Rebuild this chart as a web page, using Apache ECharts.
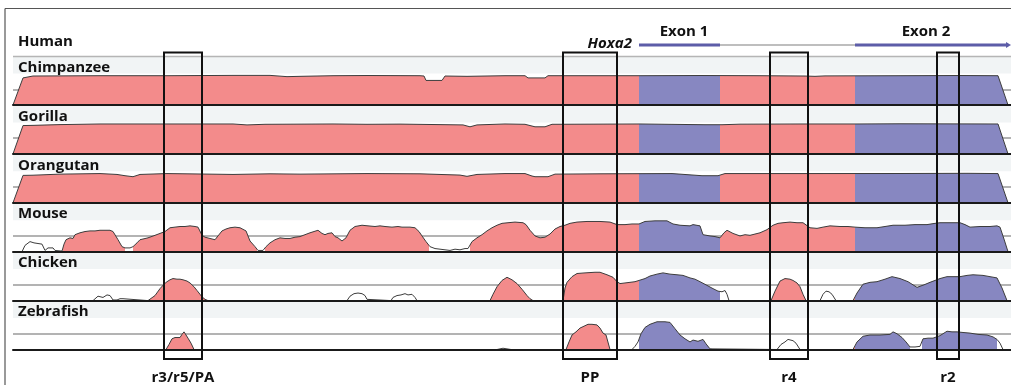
<!DOCTYPE html>
<html><head><meta charset="utf-8">
<script src="https://cdn.jsdelivr.net/npm/echarts@6/dist/echarts.min.js"></script>
<style>html,body{margin:0;padding:0;background:#fff}#c{width:1011px;height:385px}</style>
</head><body><div id="c"></div>
<script>
// ---------------- data ----------------
const species = ['Chimpanzee', 'Gorilla', 'Orangutan', 'Mouse', 'Chicken', 'Zebrafish'];
const reference = 'Human';
const geneName = 'Hoxa2';
const exonNames = ['Exon 1', 'Exon 2'];
const exons = [[639, 720], [855, 1008]];
const exonLabelPos = [684, 926];
const elementNames = ['r3/r5/PA', 'PP', 'r4', 'r2'];
const elementRanges = [[164, 202], [563, 617], [770, 808], [937, 959]];

const chimp = [[13,50],[14,50],[23,93],[33,96],[100,96.5],[167,96.5],[233,97],[270,97],[287,95],[300,95.5],[333,96.5],[367,96.8],[420,96.5],[424,96],[426,89],[442,89],[445,96],[467,95.5],[505,96.5],[525,96.5],[528,93],[545,93],[548,96.5],[615,96.5],[640,96.5],[700,96.8],[760,96.5],[805,96],[815,95.5],[825,96.2],[900,96.5],[960,96.8],[998,96.5],[1008,50],[1011,50]];
const gorilla = [[13,50],[14,50],[23,95],[33,95.3],[60,96.5],[100,97.5],[233,97.5],[247,96],[265,97],[333,97.5],[367,97],[400,97.3],[463,96],[470,93],[477,96],[505,97.5],[525,97],[535,93],[545,93],[552,97],[640,97.5],[705,96.3],[722,96.3],[740,97.2],[800,97.5],[855,97.5],[900,97.8],[998,97.5],[1008,50],[1011,50]];
const orangutan = [[13,50],[14,50],[23,93.5],[33,93.8],[60,95.5],[100,96.4],[117,95],[125,93],[133,91.4],[140,95],[167,96.4],[233,95],[270,96],[300,95.5],[367,96.4],[420,96],[460,94],[467,92],[477,95],[505,96.4],[525,96.4],[532,92.5],[535,91.4],[548,91.4],[555,95.5],[600,96],[672,96.4],[702,93],[718,93],[725,96.4],[805,96.4],[900,96.5],[968,96.8],[998,96.4],[1008,50],[1011,50]];
const mouse = [[13,50],[22,50],[25,60],[30,66],[34,64],[38,63],[42,62],[45,52],[48,56],[50,58],[53,56],[55,52],[62,51],[64,62],[66,69],[70,72],[73,71],[75,77],[80,80],[85,82],[90,83],[95,83],[100,84],[105,84],[110,84],[113,82],[115,80],[118,69],[122,58],[125,56],[130,56],[133,58],[137,64],[140,69],[148,72],[155,76],[160,79],[165,82],[170,88],[175,89],[180,90],[185,90],[190,91],[195,90],[198,89],[202,76],[205,73],[210,71],[215,69],[218,75],[222,83],[226,86],[230,88],[235,89],[240,88],[246,83],[250,67],[255,58],[258,52],[263,52],[266,58],[270,64],[275,69],[280,72],[285,71],[290,71],[295,73],[300,74],[305,77],[310,80],[314,82],[318,84],[322,79],[325,77],[328,79],[332,80],[335,74],[338,72],[342,67],[346,72],[350,84],[355,90],[362,92],[368,91],[375,90],[380,91],[385,90],[392,89],[398,90],[402,89],[410,89],[415,88],[419,82],[422,75],[426,66],[430,58],[435,55],[440,54],[445,53],[450,52],[455,54],[460,53],[465,55],[468,55],[472,66],[477,72],[482,77],[487,83],[492,88],[497,92],[502,95],[508,96],[515,97],[523,96],[526,93],[530,84],[535,75],[540,72],[545,73],[550,78],[555,86],[560,90],[565,92],[570,95],[577,97],[587,98],[600,98],[610,97],[617,93],[625,93],[632,94],[639,94],[645,98],[655,99],[667,99],[673,94],[680,92],[690,91],[693,93],[700,91],[703,77],[710,75],[715,74],[720,72],[724,80],[727,84],[733,79],[740,75],[745,77],[750,76],[755,78],[760,80],[767,85],[773,92],[778,95],[783,96],[790,97],[797,96],[803,96],[810,88],[817,87],[823,89],[830,91],[840,90],[848,90],[855,89],[865,88],[877,88],[885,90],[893,92],[905,92],[915,93],[927,93],[935,95],[940,96],[950,96],[960,96],[965,93],[970,89],[980,90],[990,90],[997,91],[1000,89],[1004,70],[1008,50],[1011,50]];
const chicken = [[13,50],[93,50],[95,53],[98,57],[100,59],[103,55],[105,57],[107,59],[110,58],[113,51],[117,51],[120,53],[123,53],[125,50],[148,50],[150,51],[155,58],[160,69],[164,76],[167,80],[170,83],[173,85],[177,84],[180,84],[183,83],[187,81],[190,78],[194,72],[197,66],[200,60],[202,56],[205,52],[208,50],[347,50],[350,57],[354,61],[358,62],[362,61],[365,58],[367,52],[369,50],[391,50],[393,55],[397,58],[401,59],[405,61],[408,59],[412,60],[415,55],[417,50],[490,50],[493,60],[497,72],[502,82],[507,87],[512,83],[517,77],[522,68],[527,58],[530,53],[533,50],[563,50],[565,70],[567,79],[572,88],[577,93],[585,94],[595,95],[600,95],[607,91],[613,87],[617,80],[620,77],[625,78],[630,79],[635,80],[639,82],[645,85],[650,89],[657,92],[663,94],[670,92],[677,91],[683,90],[690,86],[695,84],[700,80],[706,75],[713,69],[718,65],[720,63],[722,64],[725,66],[727,60],[729,50],[771,50],[775,65],[780,81],[785,85],[790,84],[793,82],[797,78],[800,72],[803,60],[806,50],[820,50],[823,60],[826,65],[829,64],[832,60],[836,50],[853,50],[857,62],[863,76],[870,79],[877,80],[885,84],[892,88],[900,85],[908,80],[917,71],[924,75],[930,79],[940,85],[947,88],[960,88],[967,90],[973,91],[983,90],[990,88],[997,86],[1002,70],[1007,50],[1011,50]];
const zebrafish = [[13,50],[166,50],[169,58],[172,67],[175,69],[177,70],[180,69],[182,74],[184,78],[186,73],[188,68],[191,60],[194,50],[497,50],[500,51],[503,52],[507,51],[511,50],[566,50],[569,62],[572,73],[576,78],[580,84],[584,87],[588,90],[592,90],[597,89],[600,84],[603,76],[606,73],[608,70],[610,50],[632,50],[635,55],[638,62],[641,75],[645,85],[650,90],[657,94],[665,94],[670,93],[675,83],[680,73],[685,67],[690,62],[693,65],[695,67],[698,63],[700,64],[703,66],[706,59],[710,51],[712,50],[777,50],[781,58],[785,62],[788,66],[790,67],[793,64],[796,60],[800,50],[853,50],[857,62],[863,71],[870,73],[880,73],[890,74],[893,78],[897,75],[902,69],[906,62],[910,54],[915,54],[920,55],[923,67],[928,68],[933,68],[940,72],[947,79],[952,78],[957,78],[963,77],[970,76],[978,74],[987,73],[993,70],[997,66],[1000,60],[1003,50],[1011,50]];

// conserved regions (above threshold) per track
const consChimp = [[13, 1011]];
const consGorilla = [[13, 1011]];
const consOrangutan = [[13, 1011]];
const consMouse = [[63, 125], [133, 257], [265, 429], [470, 1008]];
const consChicken = [[148, 209], [490, 534], [563, 720], [771, 806], [853, 1008]];
const consZebrafish = [[166, 194], [566, 610], [639, 712], [853, 910], [922, 997]];

const tracks = [chimp, gorilla, orangutan, mouse, chicken, zebrafish];
const conserved = [consChimp, consGorilla, consOrangutan, consMouse, consChicken, consZebrafish];

// ---------------- style / layout ----------------
const X_MIN = 13, X_MAX = 1011;
const PINK = '#f38b8b', BLUE = '#8787c1';
const BASE0 = 105, STEP = 48.9, PLOT_H = 31.5;
const FONT = '"Open Sans", "DejaVu Sans", sans-serif';

function buildPieces(cons) {
  const set = new Set([X_MIN, X_MAX]);
  cons.forEach(c => { set.add(c[0]); set.add(c[1]); });
  exons.forEach(e => { set.add(e[0]); set.add(e[1]); });
  const b = [...set].sort((a, c) => a - c);
  const pieces = [];
  for (let i = 0; i < b.length - 1; i++) {
    const m = (b[i] + b[i + 1]) / 2;
    const inC = cons.some(c => m > c[0] && m < c[1]);
    const inE = exons.some(e => m > e[0] && m < e[1]);
    const color = !inC ? '#ffffff' : (inE ? BLUE : PINK);
    const p = { gte: b[i], color };
    if (i === b.length - 2) p.lte = b[i + 1]; else p.lt = b[i + 1];
    pieces.push(p);
  }
  return pieces;
}

const grid = [], xAxis = [], yAxis = [], series = [], visualMap = [];
tracks.forEach((d, i) => {
  const base = BASE0 + STEP * i;
  grid.push({ left: X_MIN, width: X_MAX - X_MIN, top: base - PLOT_H, height: PLOT_H, containLabel: false });
  xAxis.push({
    type: 'value', gridIndex: i, min: X_MIN, max: X_MAX, z: 5,
    axisLine: { show: true, onZero: false, lineStyle: { color: '#1a1a1a', width: 2 } },
    axisTick: { show: false }, axisLabel: { show: false }, splitLine: { show: false }
  });
  yAxis.push({
    type: 'value', gridIndex: i, min: 50, max: 100, interval: 25,
    axisLine: { show: false }, axisTick: { show: false }, axisLabel: { show: false },
    splitLine: { show: true, showMinLine: false, showMaxLine: false, lineStyle: { color: '#9a9a9a', width: 1.5 } }
  });
  series.push({
    type: 'line', xAxisIndex: i, yAxisIndex: i, data: d, symbol: 'none', showSymbol: false,
    silent: true, z: 2,
    lineStyle: { color: '#3c3c3c', width: 1 },
    areaStyle: { opacity: 1 }
  });
  visualMap.push({
    type: 'piecewise', show: false, seriesIndex: i, dimension: 0,
    pieces: buildPieces(conserved[i]), outOfRange: { color: '#ffffff' }
  });
});

const chart = echarts.init(document.getElementById('c'), null, { renderer: 'canvas' });
chart.setOption({ animation: false, backgroundColor: '#ffffff', grid, xAxis, yAxis, series, visualMap });

// ---------------- annotations ----------------
const P = (gi, x, y) => chart.convertToPixel({ gridIndex: gi }, [x, y]);
const g = [];
const last = tracks.length - 1;
const top0 = P(0, X_MIN, 100)[1];
const baseLast = P(last, X_MIN, 50)[1];
const xL = P(0, X_MIN, 50)[0], xR = P(0, X_MAX, 50)[0];

// frame
g.push({ type: 'line', shape: { x1: 5, y1: 8.5, x2: 1011, y2: 8.5 }, style: { stroke: '#555', lineWidth: 1.2 }, z: 50 });
g.push({ type: 'line', shape: { x1: 5, y1: 8.5, x2: 5, y2: 385 }, style: { stroke: '#555', lineWidth: 1.2 }, z: 50 });

// label bands
tracks.forEach((d, i) => {
  const yTop = P(i, X_MIN, 100)[1];
  const yStart = i === 0 ? yTop - 17 : P(i - 1, X_MIN, 50)[1];
  g.push({ type: 'rect', shape: { x: xL, y: yStart, width: xR - xL, height: yTop - yStart }, style: { fill: '#f1f4f5' }, z: -10, silent: true });
  g.push({ type: 'text', x: 18, y: yTop - 6, style: { text: species[i], font: 'bold 15px ' + FONT, fill: '#111', textVerticalAlign: 'middle' }, z: 60 });
});
// human separator line + label
g.push({ type: 'line', shape: { x1: xL, y1: top0 - 17, x2: xR, y2: top0 - 17 }, style: { stroke: '#b5b5b5', lineWidth: 1.5 }, z: 1 });
g.push({ type: 'text', x: 18, y: top0 - 32, style: { text: reference, font: 'bold 15px ' + FONT, fill: '#111', textVerticalAlign: 'middle' }, z: 60 });

// gene model
const geneY = top0 - 28.5;
const ex = exons.map(e => [P(0, e[0], 50)[0], P(0, e[1], 50)[0]]);
g.push({ type: 'line', shape: { x1: ex[0][1], y1: geneY, x2: ex[1][0], y2: geneY }, style: { stroke: '#a9a9a9', lineWidth: 1.5 }, z: 20 });
ex.forEach(e => g.push({ type: 'line', shape: { x1: e[0], y1: geneY, x2: e[1], y2: geneY }, style: { stroke: '#5d5da8', lineWidth: 3 }, z: 21 }));
const tip = ex[1][1];
g.push({ type: 'polygon', shape: { points: [[tip - 2, geneY - 3], [tip + 3, geneY], [tip - 2, geneY + 3]] }, style: { fill: '#5d5da8' }, z: 21 });
g.push({ type: 'text', x: ex[0][0] - 7, y: geneY - 1, style: { text: geneName, font: 'italic bold 15px ' + FONT, fill: '#111', textAlign: 'right', textVerticalAlign: 'middle' }, z: 60 });
exonNames.forEach((n, k) => {
  g.push({ type: 'text', x: P(0, exonLabelPos[k], 50)[0], y: top0 - 42, style: { text: n, font: 'bold 15px ' + FONT, fill: '#111', textAlign: 'center', textVerticalAlign: 'middle' }, z: 60 });
});

// element boxes
elementRanges.forEach((r, k) => {
  const x0 = P(0, r[0], 50)[0], x1 = P(0, r[1], 50)[0];
  const y0 = top0 - 21, y1 = baseLast + 9.5;
  g.push({ type: 'rect', shape: { x: x0, y: y0, width: x1 - x0, height: y1 - y0 }, style: { fill: 'none', stroke: '#111', lineWidth: 2 }, z: 100, silent: true });
  g.push({ type: 'text', x: (x0 + x1) / 2, y: baseLast + 28, style: { text: elementNames[k], font: 'bold 15px ' + FONT, fill: '#111', textAlign: 'center', textVerticalAlign: 'middle' }, z: 60 });
});

chart.setOption({ graphic: { elements: g } });
</script>
</body></html>
